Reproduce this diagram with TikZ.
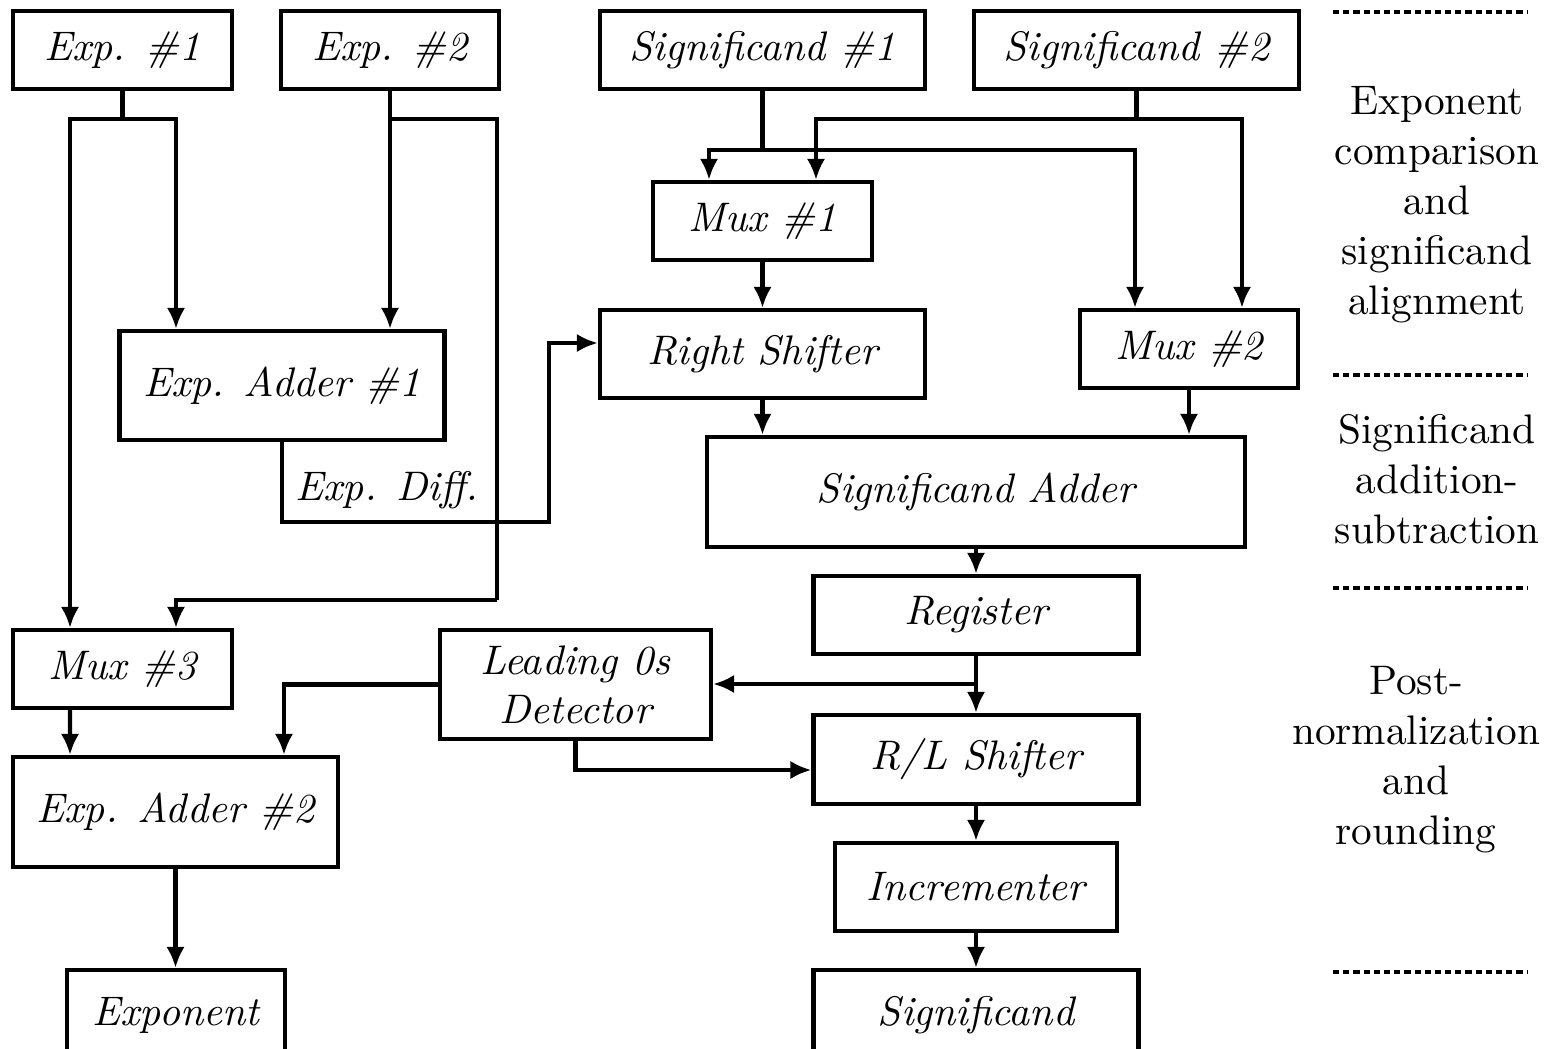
\documentclass[tikz,border=0pt]{standalone}
\usepackage{fontspec}
\setmainfont{lmroman10}[Extension=.otf,UprightFont=*-regular,ItalicFont=*-italic,BoldFont=*-bold]
\usepackage{tikz}
\usetikzlibrary{arrows.meta}

\begin{document}
\begin{tikzpicture}[x=0.02cm,y=-0.02cm,->,>={Latex[length=12pt,width=10.5pt]},line width=2.4pt,
  blk node/.style={rectangle,draw,fill=white,inner sep=0pt,font=\fontsize{23.5}{28}\selectfont\itshape},
  small node/.style={blk node,minimum width=4.37cm,minimum height=1.56cm},
  wide node/.style={blk node,minimum width=6.5cm,minimum height=1.56cm},
  stage node/.style={align=center,font=\fontsize{23.5}{28.5}\selectfont},
  stage line/.style={-,line width=2.8pt,dash pattern=on 3.5pt off 2.3pt}]

  \useasboundingbox (0,0) rectangle (1548,1048);

  % inputs
  \node[small node] (e1) at (122.5,50) {Exp. \#1};
  \node[small node] (e2) at (390,50) {Exp. \#2};
  \node[wide node] (s1) at (762.5,50) {Significand \#1};
  \node[wide node] (s2) at (1136.5,50) {Significand \#2};

  % alignment
  \node[small node] (mx1) at (762.5,221) {Mux \#1};
  \node[wide node,minimum height=1.76cm] (rs) at (762.5,354) {Right Shifter};
  \node[small node] (mx2) at (1189,349) {Mux \#2};
  \node[wide node,minimum height=2.18cm] (ea1) at (282,385.5) {Exp. Adder \#1};
  \node[font=\fontsize{23.5}{28}\selectfont\itshape] (diff) at (387,490) {Exp. Diff.};

  % addition
  \node[blk node,minimum width=10.76cm,minimum height=2.2cm] (sad) at (976,492) {Significand Adder};
  \node[wide node] (reg) at (976,615) {Register};

  % normalization
  \node[small node] (m3) at (122.5,669) {Mux \#3};
  \node[blk node,minimum width=5.42cm,minimum height=2.18cm,align=center] (lz) at (575.5,684.5) {Leading 0s\\Detector};
  \node[wide node,minimum height=1.78cm] (rl) at (976,759.5) {R/L Shifter};
  \node[wide node,minimum height=2.2cm] (ea2) at (175.5,812) {Exp. Adder \#2};
  \node[blk node,minimum width=5.64cm,minimum height=1.76cm] (inc) at (976,887) {Incrementer};

  % outputs
  \node[small node,minimum height=1.8cm] (ex) at (176,1015) {Exponent};
  \node[wide node,minimum height=1.8cm] (sig) at (976,1015) {Significand};

  % junctions
  \coordinate (ja) at (122.5,119);
  \coordinate (jb) at (497,119);
  \coordinate (jc) at (497,600);
  \coordinate (dd) at (549,522);
  \coordinate (sa) at (762.5,150);
  \coordinate (sb) at (1136.5,119);
  \coordinate (ra) at (976,684);

  % exponent paths
  \draw[-] (e1) -- (ja);
  \draw (ja) -| ([xshift=-1.05cm]m3.north);
  \draw (ja) -| ([xshift=-2.12cm]ea1.north);
  \draw (e2) -- (e2.south |- ea1.north);
  \draw[-] (e2.south |- ja) -- (jb) -- (jc);
  \draw (jc) -| ([xshift=1.07cm]m3.north);
  \draw (ea1.south) |- (dd) |- ([yshift=0.22cm]rs.west);

  % significand paths
  \draw[-] (s1) -- (sa);
  \draw (sa) -| ([xshift=-1.07cm]mx1.north);
  \draw (sa) -| ([xshift=-1.08cm]mx2.north);
  \draw[-] (s2) -- (sb);
  \draw (sb) -| ([xshift=1.07cm]mx1.north);
  \draw (sb) -| ([xshift=1.06cm]mx2.north);
  \draw (mx1) -- (rs);
  \draw (rs.south) -- (rs.south |- sad.north);
  \draw (mx2.south) -- (mx2.south |- sad.north);
  \draw (sad) -- (reg);
  \draw (reg) -- (rl);
  \draw (ra) -- (ra -| lz.east);
  \draw (lz.west) -| ([xshift=2.17cm]ea2.north);
  \draw (lz.south) |- ([yshift=-0.21cm]rl.west);
  \draw ([xshift=-1.05cm]m3.south) -- ([xshift=-2.11cm]ea2.north);
  \draw (ea2.south) -- (ea2.south |- ex.north);
  \draw (rl) -- (inc);
  \draw (inc) -- (sig);

  % stages
  \draw[stage line] (1333,12) -- (1527,12);
  \draw[stage line] (1333,375) -- (1527,375);
  \draw[stage line] (1333,588) -- (1527,588);
  \draw[stage line] (1333,972) -- (1527,972);
  \node[stage node] (st1) at (1437,205) {Exponent\\comparison\\and\\significand\\alignment};
  \node[stage node] (st2) at (1437,479) {Significand\\addition-\\subtraction};
  \node[stage node] (st3) at (1416,760) {Post-\\normalization\\and\\rounding};

\end{tikzpicture}
\end{document}
